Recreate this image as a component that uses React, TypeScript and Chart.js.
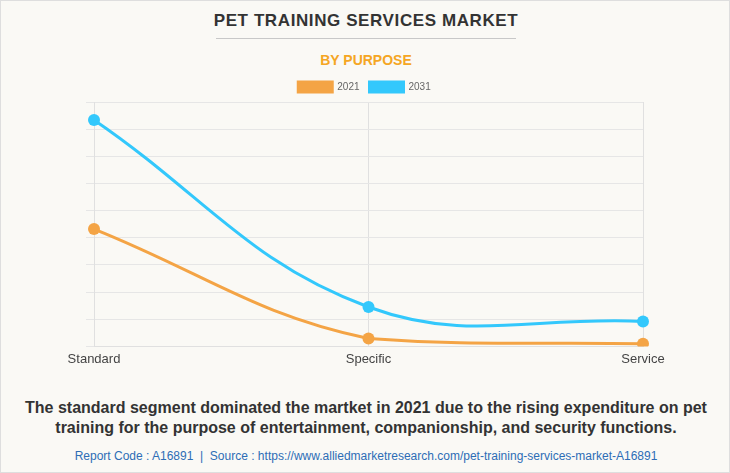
import React, { useEffect, useRef } from "react";
import { Chart, registerables } from "chart.js";

Chart.register(...registerables);

const categories = ["Standard", "Specific", "Service"];
const series2021 = [432, 29, 10];
const series2031 = [834, 145, 92];
const seriesLabels = ["2021", "2031"];
const yMax = 900;
const yStep = 100;

const FONT = "Arial, 'Liberation Sans', Helvetica, sans-serif";
const ORANGE = "#F4A445";
const BLUE = "#33C8FC";

export default function App() {
  const ref = useRef<HTMLCanvasElement | null>(null);

  useEffect(() => {
    if (!ref.current) return;
    Chart.defaults.font.family = FONT;
    const chart = new Chart(ref.current, {
      type: "line",
      data: {
        labels: categories,
        datasets: [
          {
            label: seriesLabels[0],
            data: series2021,
            borderColor: ORANGE,
            backgroundColor: ORANGE,
            borderWidth: 3,
            pointRadius: 6,
            pointHoverRadius: 6,
            pointBackgroundColor: ORANGE,
            pointBorderWidth: 0,
            tension: 0.4,
            fill: false,
          },
          {
            label: seriesLabels[1],
            data: series2031,
            borderColor: BLUE,
            backgroundColor: BLUE,
            borderWidth: 3,
            pointRadius: 6,
            pointHoverRadius: 6,
            pointBackgroundColor: BLUE,
            pointBorderWidth: 0,
            tension: 0.4,
            fill: false,
          },
        ],
      },
      options: {
        animation: false,
        responsive: false,
        maintainAspectRatio: false,
        layout: { padding: { left: 85, right: 88, top: 0, bottom: 0 } },
        plugins: {
          legend: {
            position: "top",
            labels: {
              boxWidth: 34,
              boxHeight: 10,
              padding: 10,
              color: "#666",
              font: { size: 10, family: FONT },
            },
          },
          tooltip: { enabled: false },
        },
        scales: {
          x: {
            grid: { color: "#e0e0e0", drawTicks: false },
            border: { color: "#e0e0e0" },
            ticks: { color: "#444", padding: 5, font: { size: 13, family: FONT } },
          },
          y: {
            min: 0,
            max: yMax,
            ticks: { display: false, stepSize: yStep },
            grid: { color: "#e6e6e6", drawTicks: true, tickLength: 8 },
            border: { color: "#e0e0e0" },
          },
        },
      },
    });
    return () => chart.destroy();
  }, []);

  return (
    <div
      style={{
        position: "fixed",
        left: 0,
        top: 0,
        width: 730,
        height: 473,
        background: "#FAF9F5",
        border: "1px solid #dedede",
        boxSizing: "border-box",
        fontFamily: FONT,
        overflow: "hidden",
      }}
    >
      <div
        style={{
          position: "absolute",
          top: 9,
          left: 0,
          width: 730,
          textAlign: "center",
          fontWeight: "bold",
          fontSize: 17,
          letterSpacing: "0.6px",
          color: "#333",
          lineHeight: "22px",
        }}
      >
        PET TRAINING SERVICES MARKET
      </div>
      <div
        style={{
          position: "absolute",
          top: 37,
          left: 215,
          width: 300,
          height: 1,
          background: "#c8c8c8",
        }}
      />
      <div
        style={{
          position: "absolute",
          top: 50,
          left: 0,
          width: 730,
          textAlign: "center",
          fontWeight: "bold",
          fontSize: 14,
          color: "#F5A623",
          lineHeight: "18px",
        }}
      >
        BY PURPOSE
      </div>
      <canvas
        ref={ref}
        width={730}
        height={300}
        style={{ position: "absolute", left: 0, top: 71, width: 730, height: 300 }}
      />
      <div
        style={{
          position: "absolute",
          top: 397,
          left: 0,
          width: 730,
          textAlign: "center",
          fontWeight: "bold",
          fontSize: 16,
          color: "#333",
          lineHeight: "20px",
        }}
      >
        The standard segment dominated the martket in 2021 due to the rising expenditure on pet
        <br />
        training for the purpose of entertainment, companionship, and security functions.
      </div>
      <div
        style={{
          position: "absolute",
          top: 447,
          left: 0,
          width: 730,
          textAlign: "center",
          fontSize: 12,
          color: "#2D6DB5",
          lineHeight: "16px",
          whiteSpace: "pre",
        }}
      >
        {"Report Code : A16891  |  Source : https://www.alliedmarketresearch.com/pet-training-services-market-A16891"}
      </div>
    </div>
  );
}
